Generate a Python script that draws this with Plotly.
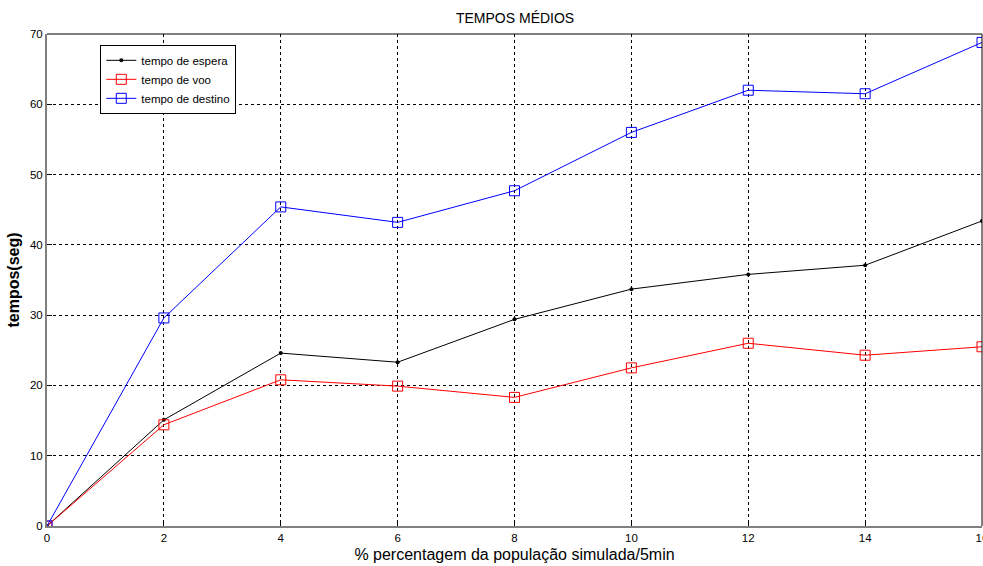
import plotly.graph_objects as go

# % da população simulada por 5 min
x = [0, 2, 4, 6, 8, 10, 12, 14, 16]

# tempos médios (segundos)
tempo_espera = [0, 15.1, 24.6, 23.3, 29.4, 33.7, 35.8, 37.1, 43.4]
tempo_voo = [0, 14.4, 20.8, 19.9, 18.3, 22.5, 26.0, 24.3, 25.5]
tempo_destino = [0, 29.6, 45.4, 43.2, 47.7, 56.0, 62.0, 61.5, 68.8]

x_ticks = [0, 2, 4, 6, 8, 10, 12, 14, 16]
y_ticks = [0, 10, 20, 30, 40, 50, 60, 70]

FONT = "Liberation Sans, Arial, sans-serif"

fig = go.Figure()
fig.add_trace(go.Scatter(
    x=x, y=tempo_espera, name="tempo de espera", mode="lines+markers",
    line=dict(color="black", width=1),
    marker=dict(symbol="circle", size=4, color="black"),
))
fig.add_trace(go.Scatter(
    x=x, y=tempo_voo, name="tempo de voo", mode="lines+markers",
    line=dict(color="#ff0000", width=1),
    marker=dict(symbol="square-open", size=10, color="#ff0000", line=dict(width=1)),
))
fig.add_trace(go.Scatter(
    x=x, y=tempo_destino, name="tempo de destino", mode="lines+markers",
    line=dict(color="#0000ff", width=1),
    marker=dict(symbol="square-open", size=10, color="#0000ff", line=dict(width=1)),
))

fig.update_layout(
    width=983, height=566,
    margin=dict(l=47, r=1, t=34, b=40),
    paper_bgcolor="white", plot_bgcolor="white",
    font=dict(family=FONT, color="black", size=11),
    title=dict(text="TEMPOS MÉDIOS", x=0.524, xanchor="center", y=0.968, yanchor="middle",
               font=dict(size=14, family=FONT, color="black")),
    legend=dict(x=0.057, y=0.978, xanchor="left", yanchor="top",
                bgcolor="white", bordercolor="black", borderwidth=1,
                font=dict(size=11.5, family=FONT), itemwidth=30,
                tracegroupgap=0),
    showlegend=True,
)

fig.update_xaxes(
    range=[0, 16], tickvals=x_ticks, ticktext=[str(v) for v in x_ticks],
    ticklabeloverflow="allow", automargin=False,
    showgrid=True, gridcolor="black", gridwidth=1, griddash="3px,3px",
    showline=True, linecolor="#808080", linewidth=2, mirror=False,
    ticks="inside", ticklen=5, tickcolor="black",
    zeroline=False, tickfont=dict(size=11.5, family=FONT),
    title=dict(text="% percentagem da população simulada/5min",
               font=dict(size=16, family=FONT), standoff=6),
)
fig.update_yaxes(
    range=[0, 70], tickvals=y_ticks, ticktext=[str(v) for v in y_ticks],
    showgrid=True, gridcolor="black", gridwidth=1, griddash="3px,3px",
    showline=True, linecolor="#808080", linewidth=2, mirror=False,
    ticks="inside", ticklen=5, tickcolor="black",
    zeroline=False, tickfont=dict(size=11.5, family=FONT),
    title=dict(text="<b>tempos(seg)</b>", font=dict(size=16, family=FONT), standoff=6),
)

# top and right frame lines of the axes box
fig.add_shape(type="line", xref="paper", yref="paper", x0=0, x1=1, y0=1, y1=1,
              line=dict(color="black", width=1))
fig.add_shape(type="line", xref="paper", yref="paper", x0=1, x1=1, y0=0, y1=1,
              line=dict(color="black", width=1))

fig.write_html("out.html")
